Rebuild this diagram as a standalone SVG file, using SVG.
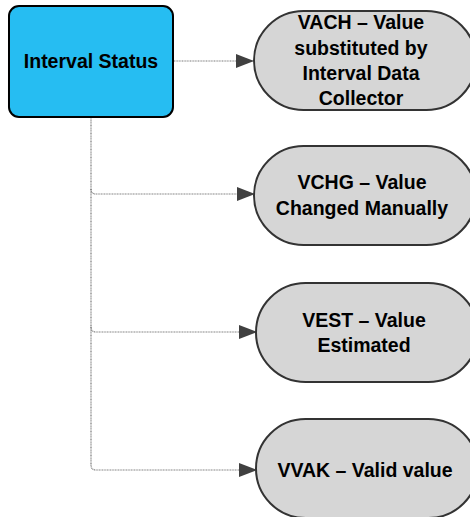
<svg xmlns="http://www.w3.org/2000/svg" width="470" height="517" viewBox="0 0 470 517">
<style>
.t{font-family:"Liberation Sans",Arial,sans-serif;font-weight:bold;font-size:19.5px;fill:#000;text-anchor:middle}
.pill{fill:#d6d6d6;stroke:#333;stroke-width:2}
.c{fill:none;stroke:#7a7a7a;stroke-width:1.2;stroke-dasharray:1 0.6}
</style>
<defs>
<marker id="ah" markerWidth="18" markerHeight="14" refX="17" refY="7" orient="auto" markerUnits="userSpaceOnUse">
<path d="M0,0 L18,7 L0,14 Z" fill="#404040"/>
</marker>
</defs>
<g id="connectors">
<path class="c" d="M174,61 H253" marker-end="url(#ah)"/>
<path class="c" d="M91,117 V189 Q91,194 96,194 H254" marker-end="url(#ah)"/>
<path class="c" d="M91,189 V327 Q91,332 96,332 H256" marker-end="url(#ah)"/>
<path class="c" d="M91,327 V465 Q91,470 96,470 H256" marker-end="url(#ah)"/>
</g>
<g id="interval-status">
<rect x="9" y="6" width="164" height="111" rx="10" fill="#26bdf2" stroke="#000" stroke-width="2"/>
<text class="t" x="91" y="68">Interval Status</text>
</g>
<g id="vach">
<rect class="pill" x="254" y="11" width="222" height="99" rx="49.5"/>
<text class="t" x="361" y="29">VACH – Value</text>
<text class="t" x="361" y="55">substituted by</text>
<text class="t" x="361" y="80">Interval Data</text>
<text class="t" x="361" y="105">Collector</text>
</g>
<g id="vchg">
<rect class="pill" x="254" y="146" width="222" height="99" rx="49.5"/>
<text class="t" x="362" y="189">VCHG – Value</text>
<text class="t" x="362" y="215">Changed Manually</text>
</g>
<g id="vest">
<rect class="pill" x="256" y="283" width="222" height="99" rx="49.5"/>
<text class="t" x="364" y="327">VEST – Value</text>
<text class="t" x="364" y="352">Estimated</text>
</g>
<g id="vvak">
<rect class="pill" x="256" y="419" width="222" height="99" rx="49.5"/>
<text class="t" x="365" y="477">VVAK – Valid value</text>
</g>
</svg>
